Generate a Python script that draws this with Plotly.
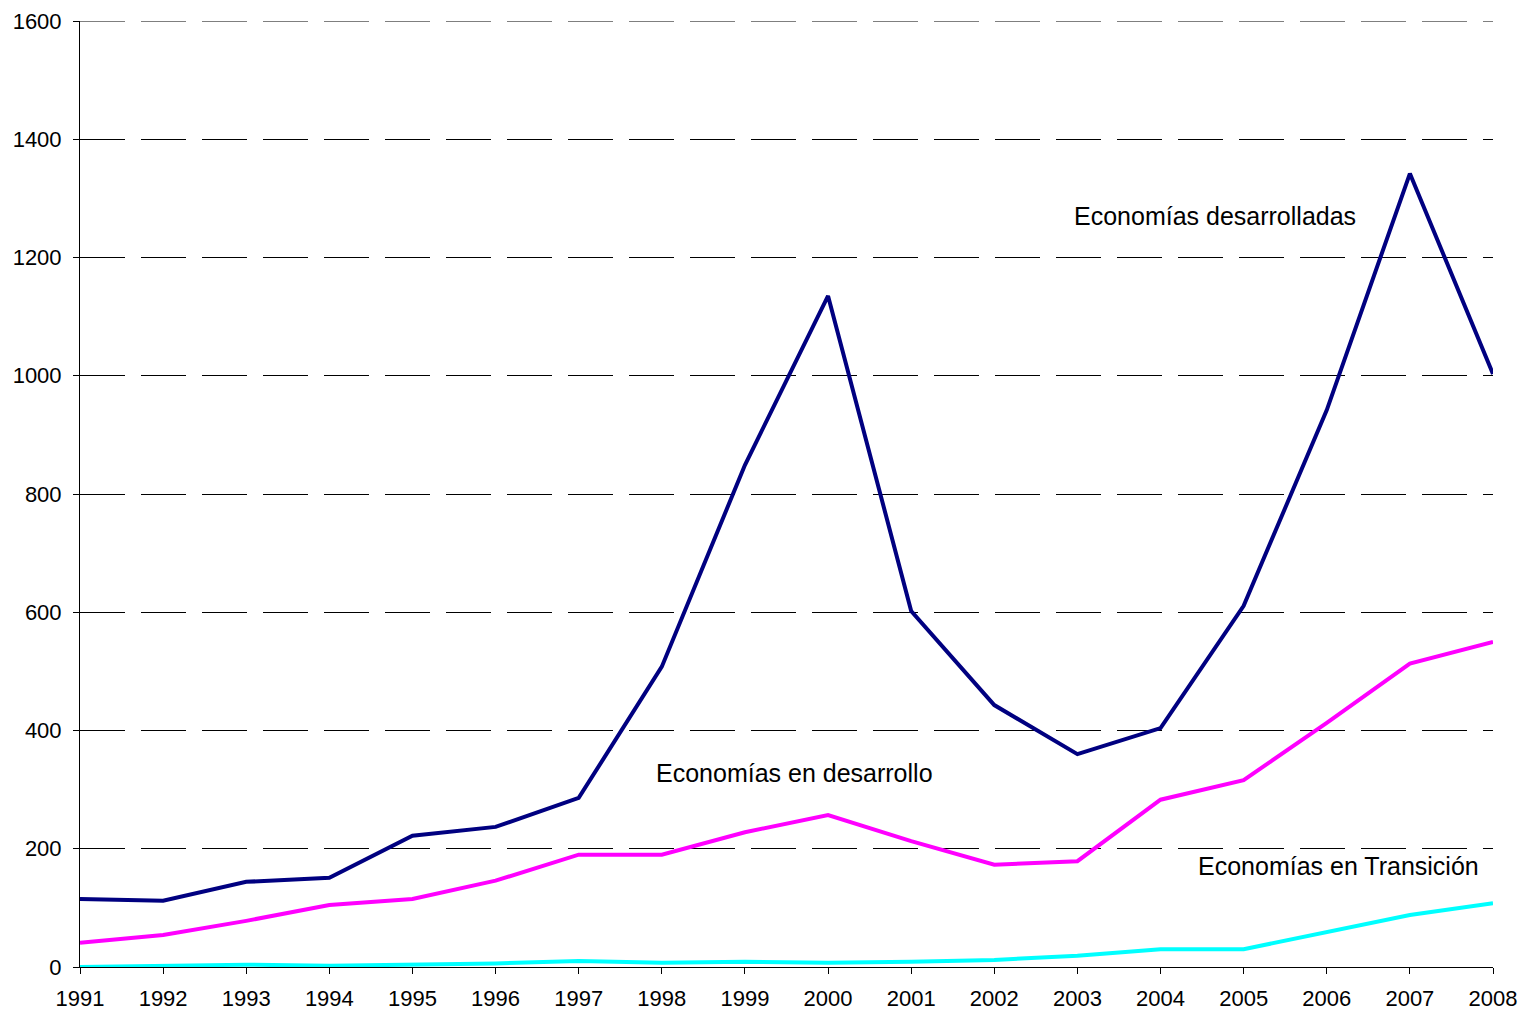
import plotly.graph_objects as go

years = list(range(1991, 2009))
desarrolladas = [115, 112, 144, 151, 222, 237, 286, 508, 849, 1135,
                 602, 443, 360, 404, 611, 942, 1342, 1003]
en_desarrollo = [41, 54, 78, 105, 115, 146, 190, 190, 228, 257,
                 213, 173, 179, 283, 316, 413, 513, 550]
transicion = [0, 2, 4, 2, 4, 6, 10, 7, 9, 7,
              9, 12, 19, 30, 30, 59, 88, 108]

fig = go.Figure()
fig.add_trace(go.Scatter(x=years, y=desarrolladas, mode='lines',
                         line=dict(color='#000080', width=4), cliponaxis=False))
fig.add_trace(go.Scatter(x=years, y=en_desarrollo, mode='lines',
                         line=dict(color='#FF00FF', width=4), cliponaxis=False))
fig.add_trace(go.Scatter(x=years, y=transicion, mode='lines',
                         line=dict(color='#00FFFF', width=4), cliponaxis=False))

# series labels placed on the plot
labels = [
    ('Economías desarrolladas', 2004.66, 1270),
    ('Economías en desarrollo', 1999.6, 328),
    ('Economías en Transición', 2006.14, 171),
]
for txt, xx, yy in labels:
    fig.add_annotation(x=xx, y=yy, text=txt, showarrow=False,
                       font=dict(size=25, color='black'))

# top gridline (plotly skips the one on the range edge)
fig.add_shape(type='line', xref='paper', x0=0, x1=1, yref='y', y0=1600, y1=1600,
              line=dict(color='black', width=1, dash='45px,16px'), layer='below')

fig.update_layout(
    width=1522, height=1011,
    plot_bgcolor='white', paper_bgcolor='white',
    showlegend=False,
    font=dict(family='Liberation Sans, Arial', size=22, color='black'),
    margin=dict(l=80, r=29, t=21, b=44),
)
fig.update_xaxes(range=[1991, 2008], tickvals=years, showgrid=False,
                 showline=True, linecolor='black', linewidth=1, automargin=False,
                 ticks='outside', ticklen=6, tickcolor='black',
                 ticklabelstandoff=6, tickfont=dict(size=22))
fig.update_yaxes(range=[0, 1600], dtick=200, showgrid=True,
                 gridcolor='black', gridwidth=1, griddash='45px,16px',
                 zeroline=False, showline=True, linecolor='black', linewidth=1,
                 automargin=False, ticks='outside', ticklen=6, tickcolor='black',
                 ticklabelstandoff=7, tickfont=dict(size=22))

# drop the default 8px body margin so the figure fills the window
fig.write_html("out.html", config={'displayModeBar': False},
               post_script="document.body.style.margin='0';document.body.style.overflow='hidden';")
